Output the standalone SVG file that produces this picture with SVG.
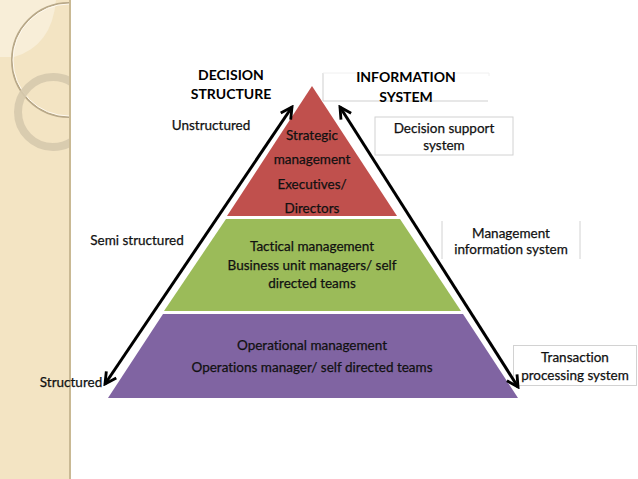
<svg xmlns="http://www.w3.org/2000/svg" width="638" height="479" viewBox="0 0 638 479">
<defs>
<style>
.t{font-family:Lato,"Open Sans","Liberation Sans",sans-serif;font-size:13.5px;fill:#111;stroke:#111;stroke-width:0.25;text-anchor:middle;font-variant-ligatures:none}
.h{font-family:Lato,"Open Sans","Liberation Sans",sans-serif;font-size:14px;font-weight:bold;fill:#000;text-anchor:middle}
.box{fill:#fff;stroke:#d2d2d2;stroke-width:1}
.arr{stroke:#000;stroke-width:3;fill:none;marker-start:url(#ah);marker-end:url(#ah)}
</style>
<marker id="ah" viewBox="0 0 10 10" refX="8.5" refY="5" markerWidth="5" markerHeight="5" orient="auto-start-reverse" markerUnits="strokeWidth">
<path d="M1,1 L8.5,5 L1,9" fill="none" stroke="#000" stroke-width="1.9"/>
</marker>
<clipPath id="panel"><rect x="0" y="0" width="70" height="479"/></clipPath>
</defs>
<rect width="638" height="479" fill="#fff"/>
<g id="background">
<rect x="0" y="0" width="70" height="479" fill="#f3e4c3"/>
<g clip-path="url(#panel)">
<path d="M0,0 L56,0 Q52,46 14,57 L0,57 Z" fill="#f8eed8"/>
<circle cx="69" cy="60" r="57" fill="none" stroke="#b8a888" stroke-width="2"/>
<circle cx="69" cy="60" r="56" fill="none" stroke="#fffaf0" stroke-width="1"/>
<circle cx="53" cy="112" r="35" fill="none" stroke="#d6c9ad" stroke-width="8" opacity="0.9"/>
</g>
<rect x="69" y="0" width="2" height="479" fill="#c9b994"/>
</g>
<g id="pyramid">
<g id="strategic">
<polygon points="312,86 397,216 227,216" fill="#c0504d"/>
<text class="t" x="312" y="140">Strategic</text>
<text class="t" x="312" y="164">management</text>
<text class="t" x="312" y="189">Executives/</text>
<text class="t" x="312" y="213">Directors</text>
</g>
<g id="tactical">
<polygon points="226,219 400,219 461,311 164,311" fill="#9bbb59"/>
<text class="t" x="312" y="251">Tactical management</text>
<text class="t" x="312" y="270">Business unit managers/ self</text>
<text class="t" x="312" y="288">directed teams</text>
</g>
<g id="operational">
<polygon points="163,314 463,314 518,398 108,398" fill="#8064a2"/>
<text class="t" x="312" y="350">Operational management</text>
<text class="t" x="312" y="372">Operations manager/ self directed teams</text>
</g>
</g>
<g id="decision-structure">
<text class="h" x="231" y="80">DECISION</text>
<text class="h" x="231" y="99">STRUCTURE</text>
<text class="t" x="211" y="130">Unstructured</text>
<text class="t" x="137" y="245">Semi structured</text>
<text class="t" x="71" y="387">Structured</text>
</g>
<g id="information-system">
<path d="M323,73 V101 H488" fill="none" stroke="#cfcfcf" stroke-width="1"/>
<path d="M323,73 H489 V76" fill="none" stroke="#f0f0f0" stroke-width="1"/>
<text class="h" x="406" y="82">INFORMATION</text>
<text class="h" x="406" y="102">SYSTEM</text>
</g>
<g id="dss">
<rect class="box" x="375" y="117" width="138" height="38"/>
<text class="t" x="444" y="133">Decision support</text>
<text class="t" x="444" y="150">system</text>
</g>
<g id="mis">
<path d="M442,221 V259 M580,221 V259" stroke="#d2d2d2" stroke-width="1"/>
<text class="t" x="511" y="238">Management</text>
<text class="t" x="511" y="254">information system</text>
</g>
<g id="tps">
<rect class="box" x="513.5" y="345.5" width="123" height="40"/>
<text class="t" x="575" y="362">Transaction</text>
<text class="t" x="575" y="380">processing system</text>
</g>
<g id="connectors">
<line class="arr" x1="105" y1="384" x2="292" y2="107"/>
<line class="arr" x1="518" y1="387" x2="340" y2="107"/>
</g>
</svg>
